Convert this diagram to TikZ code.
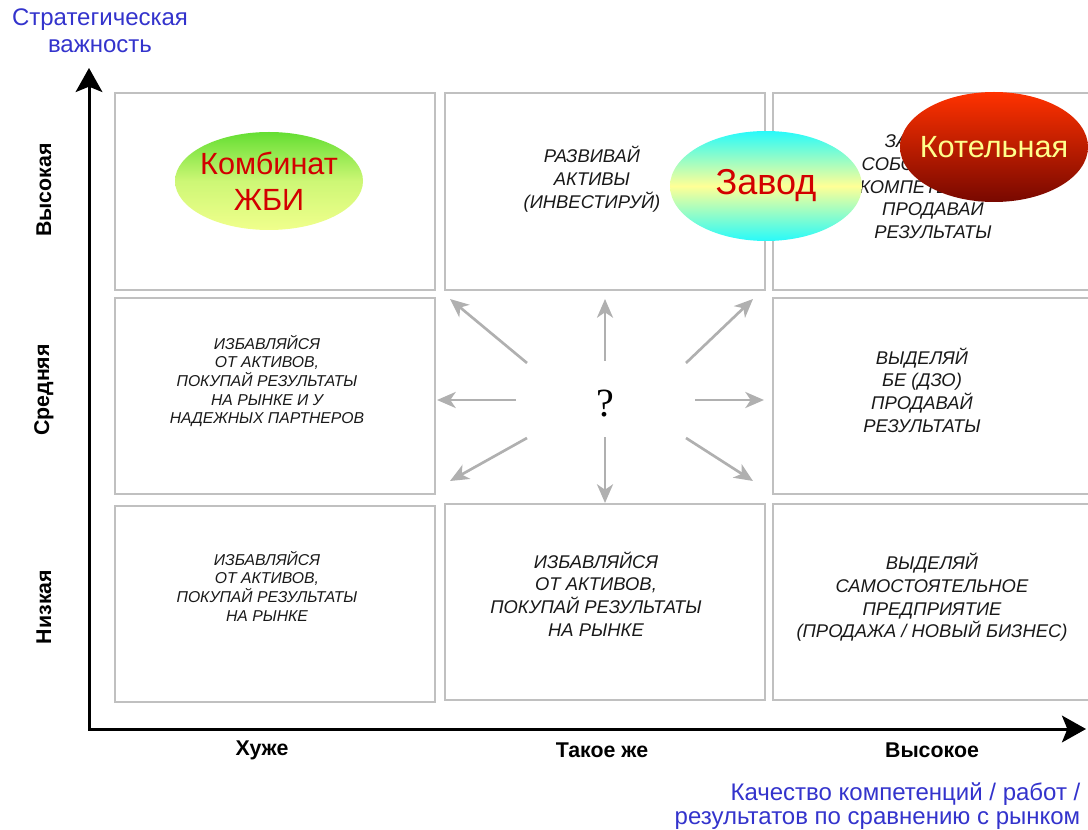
\documentclass[tikz,border=0pt]{standalone}
\usepackage{fontspec}
\setmainfont{Liberation Sans}
\newfontfamily\qmarkfont{Liberation Serif}
\usetikzlibrary{arrows.meta,shapes.geometric}
\definecolor{titleblue}{RGB}{51,51,204}
\definecolor{cellgray}{RGB}{192,192,192}
\definecolor{arrowgray}{RGB}{176,176,176}
\definecolor{txtdark}{RGB}{25,25,25}
\definecolor{combgreen}{RGB}{100,222,50}
\definecolor{combyellow}{RGB}{240,255,140}
\definecolor{plantcyan}{RGB}{40,250,250}
\definecolor{plantyellow}{RGB}{255,255,150}
\definecolor{boilertop}{RGB}{255,50,0}
\definecolor{boilerbottom}{RGB}{120,8,0}
\definecolor{boilertext}{RGB}{255,255,140}
\definecolor{redtext}{RGB}{210,0,0}
\begin{document}
\begin{tikzpicture}[x=0.75pt,y=-0.75pt,
  cellbox/.style={draw=cellgray, line width=1.5pt, minimum width=240pt, minimum height=147.5pt, inner sep=0pt, outer sep=0pt},
  widebox/.style={cellbox, minimum width=247.5pt},
  celltxt/.style={align=center, text=txtdark, font=\fontsize{13.8}{17}\selectfont\itshape},
  smalltxt/.style={align=center, text=txtdark, font=\fontsize{11.8}{14}\selectfont\itshape},
  axislabel/.style={font=\fontsize{16}{18}\selectfont\bfseries},
  bluelabel/.style={text=titleblue, font=\fontsize{18}{20}\selectfont},
  bluelabeltight/.style={text=titleblue, font=\fontsize{18}{17.5}\selectfont},
  axisline/.style={line width=2.25pt, -{Stealth[length=18pt,width=20pt,inset=4pt]}},
  ray/.style={draw=arrowgray, line width=2pt, -{Stealth[length=14pt,width=12pt,inset=4pt]}},
  blob/.style={ellipse, inner sep=0pt, draw=none}]
\useasboundingbox (0,0) rectangle (1088,830);

% grid of cells
\node[cellbox] (c11) at (275,191.5) {};
\node[cellbox] (c12) at (604.5,191.5) {};
\node[widebox] (c13) at (938,191.5) {};
\node[cellbox] (c21) at (275,396) {};
\node[widebox] (c23) at (938,396) {};
\node[cellbox] (c31) at (275,604) {};
\node[cellbox] (c32) at (604.5,602) {};
\node[widebox] (c33) at (938,602) {};

% cell texts
\node[celltxt] (t12) at (592,179) {РАЗВИВАЙ\\АКТИВЫ\\(ИНВЕСТИРУЙ)};
\node[celltxt] (t13) at (933,185) {ЗАЩИЩАЙ\\СОБСТВЕННЫЕ\\КОМПЕТЕНЦИИ,\\ПРОДАВАЙ\\РЕЗУЛЬТАТЫ};
\node[smalltxt] (t21) at (267,381) {ИЗБАВЛЯЙСЯ\\ОТ АКТИВОВ,\\ПОКУПАЙ РЕЗУЛЬТАТЫ\\НА РЫНКЕ И У\\НАДЕЖНЫХ ПАРТНЕРОВ};
\node[celltxt] (t23) at (922,390) {ВЫДЕЛЯЙ\\БЕ (ДЗО)\\ПРОДАВАЙ\\РЕЗУЛЬТАТЫ};
\node[smalltxt] (t31) at (267,586) {ИЗБАВЛЯЙСЯ\\ОТ АКТИВОВ,\\ПОКУПАЙ РЕЗУЛЬТАТЫ\\НА РЫНКЕ};
\node[celltxt] (t32) at (596,594) {ИЗБАВЛЯЙСЯ\\ОТ АКТИВОВ,\\ПОКУПАЙ РЕЗУЛЬТАТЫ\\НА РЫНКЕ};
\node[celltxt] (t33) at (932,597.5) {ВЫДЕЛЯЙ\\САМОСТОЯТЕЛЬНОЕ\\ПРЕДПРИЯТИЕ\\(ПРОДАЖА / НОВЫЙ БИЗНЕС)};

% centre question and direction rays
\node[font=\qmarkfont\fontsize{30}{30}\selectfont] (q) at (605,404) {?};
\coordinate (r1s) at (527,363); \coordinate (r1e) at (450,299);
\coordinate (r2s) at (605,361); \coordinate (r2e) at (605,299);
\coordinate (r3s) at (686,363); \coordinate (r3e) at (753,299);
\coordinate (r4s) at (516,400); \coordinate (r4e) at (437,400);
\coordinate (r5s) at (695,400); \coordinate (r5e) at (764,400);
\coordinate (r6s) at (527,438); \coordinate (r6e) at (450,481);
\coordinate (r7s) at (605,437); \coordinate (r7e) at (605,503);
\coordinate (r8s) at (686,438); \coordinate (r8e) at (753,481);
\foreach \i in {1,...,8} {\draw[ray] (r\i s) -- (r\i e);}

% business units: shaded ellipses with their names on top
\node[blob, minimum width=141pt, minimum height=73.5pt,
      top color=combgreen, bottom color=combyellow, middle color=combyellow!75!combgreen] (comb) at (269,181) {};
\node[align=center, text=redtext, font=\fontsize{23}{27}\selectfont] (combname) at (comb.center) {Комбинат\\ЖБИ};
\node[blob, minimum width=144pt, minimum height=82.5pt,
      top color=plantcyan, bottom color=plantcyan, middle color=plantyellow] (plant) at (766,186) {};
\node[text=redtext, font=\fontsize{27}{30}\selectfont] (plantname) at (plant.center) {Завод};
\node[blob, minimum width=141pt, minimum height=82.5pt,
      top color=boilertop, bottom color=boilerbottom] (boiler) at (994,147) {};
\node[text=boilertext, font=\fontsize{23}{26}\selectfont] (boilername) at (boiler.center) {Котельная};

% axes
\coordinate (o) at (89,730);
\coordinate (ytip) at (89,68);
\coordinate (xtip) at (1086,729);
\coordinate (ox) at (88,729);
\draw[axisline] (o) -- (ytip);
\draw[axisline] (ox) -- (xtip);

% axis labels
\node[axislabel] (lx1) at (262,750) {Хуже};
\node[axislabel] (lx2) at (602,750) {Такое же};
\node[axislabel] (lx3) at (932,750) {Высокое};
\node[axislabel, rotate=90] (ly1) at (44,190) {Высокая};
\node[axislabel, rotate=90] (ly2) at (44,390) {Средняя};
\node[axislabel, rotate=90] (ly3) at (44,607) {Низкая};

\node[bluelabel, align=center] (ytitle) at (100,31) {Стратегическая\\важность};
\node[bluelabeltight, align=right, anchor=east] (xtitle) at (1085,806) {Качество компетенций / работ /\\результатов по сравнению с рынком};
\end{tikzpicture}
\end{document}
